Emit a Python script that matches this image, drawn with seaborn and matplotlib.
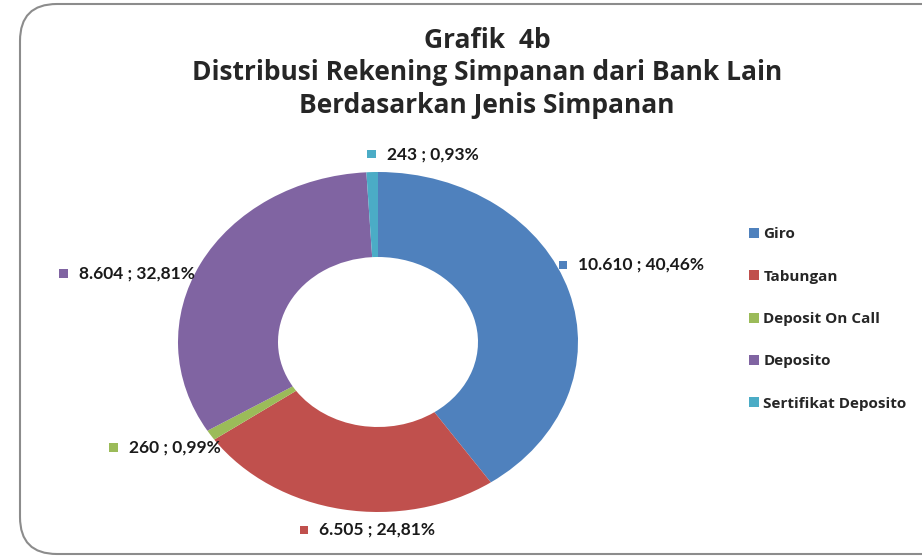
import matplotlib
matplotlib.use("Agg")
import matplotlib.pyplot as plt
import seaborn as sns
import numpy as np
from matplotlib.patches import FancyBboxPatch, Rectangle
from matplotlib.offsetbox import HPacker, TextArea, DrawingArea, AnnotationBbox

# data
categories = ["Giro", "Tabungan", "Deposit On Call", "Deposito", "Sertifikat Deposito"]
accounts = [10610, 6505, 260, 8604, 243]
value_labels = ["10.610", "6.505", "260", "8.604", "243"]
pct_labels = ["40,46%", "24,81%", "0,99%", "32,81%", "0,93%"]

colors = ["#4F81BD", "#C0504D", "#9BBB59", "#8064A2", "#4BACC6"]
# label layout: horizontal alignment of the label box, nudge in pixels
label_align = [0.0, 0.0, 1.0, 1.0, 0.0]
label_nudge = [(-33, 22), (-38, -4), (30, -3), (15, -18), (-4, 1)]

sns.set_theme(style="white")
plt.rcParams['font.family'] = ['Open Sans', 'DejaVu Sans']

W, H = 922, 558
fig = plt.figure(figsize=(W / 100, H / 100), dpi=100)

# rounded outer frame
frame = FancyBboxPatch((20 / W, 4 / H), 960 / W, 550 / H,
                       boxstyle="round,pad=0,rounding_size=0.04",
                       transform=fig.transFigure, fc="white", ec="#8c8c8c",
                       lw=1.5, mutation_aspect=W / H, zorder=-5)
fig.patches.append(frame)

title_kw = dict(ha="center", va="center", fontsize=19, fontweight="bold")
fig.text(487 / W, 1 - 40 / H, "Grafik  4b", **title_kw)
fig.text(487 / W, 1 - 72 / H, "Distribusi Rekening Simpanan dari Bank Lain", **title_kw)
fig.text(487 / W, 1 - 105 / H, "Berdasarkan Jenis Simpanan", **title_kw)

ax = fig.add_axes([178 / W, 46 / H, 400 / W, 340 / H])
wedges, _ = ax.pie(accounts, colors=colors, startangle=90, counterclock=False,
                   radius=1, wedgeprops=dict(width=0.5, linewidth=0))
ax.set_aspect("auto")
ax.set_xlim(-1, 1)
ax.set_ylim(-1, 1)
ax.axis("off")

# data labels with small colored key squares
for w, v, p, c, al, nd in zip(wedges, value_labels, pct_labels, colors,
                              label_align, label_nudge):
    ang = np.deg2rad((w.theta1 + w.theta2) / 2)
    x, y = 1.12 * np.cos(ang), 1.1 * np.sin(ang)
    da = DrawingArea(6, 6, 0, 0)
    da.add_artist(Rectangle((0, 0), 6, 6, fc=c, ec="none"))
    ta = TextArea(f"{v} ; {p}", textprops=dict(fontsize=12.5, fontweight="bold",
                                                 color="#1a1a1a", family="Lato"))
    box = HPacker(children=[da, ta], pad=0, sep=8, align="center")
    ab = AnnotationBbox(box, (x, y), xycoords="data", xybox=nd,
                        boxcoords="offset pixels", box_alignment=(al, 0.5),
                        frameon=False, annotation_clip=False)
    ax.add_artist(ab)

leg = fig.legend(wedges, categories, loc="center left",
                 bbox_to_anchor=(735 / W, 1 - 319 / H), frameon=False,
                 handlelength=0.65, handleheight=0.65, handletextpad=0.3,
                 labelspacing=1.85, prop=dict(size=11, weight="bold"))

fig.savefig("out.png", dpi=100)
